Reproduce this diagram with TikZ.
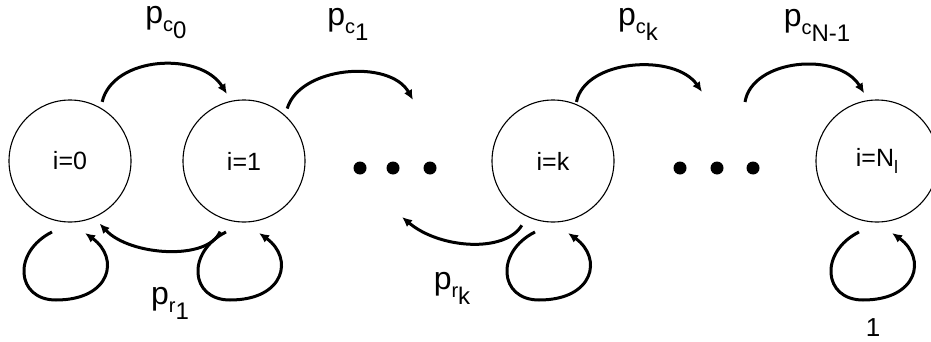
\documentclass[tikz,border=0pt]{standalone}
\usepackage{fontspec}
\setmainfont{Liberation Sans}
\usetikzlibrary{arrows.meta}
\newcommand{\plab}[2]{p\raisebox{-8pt}{\fontsize{20}{20}\selectfont #1}\raisebox{-15pt}{\fontsize{24}{24}\selectfont #2}}
\begin{document}
\begin{tikzpicture}[x=1pt,y=1pt,
    state/.style={draw, circle, line width=1.1pt, minimum size=122pt, inner sep=0pt, font=\fontsize{25}{30}\selectfont},
    arr/.style={line width=3pt, -{Latex[length=10pt,width=9pt]}},
    lab/.style={inner sep=0pt, font=\fontsize{32}{38}\selectfont}]
    \useasboundingbox (0,0) rectangle (931,341);

    % States
    \node[state] (s0) at (70,180) {i=0};
    \node[state] (s1) at (244,180) {i=1};
    \node[state] (sk) at (553,180) {i=k};
    \node[state] (sN) at (877,180) {i=N\raisebox{-7pt}{\fontsize{18}{18}\selectfont l}};

    % Dots
    \foreach \x in {360,393,430,680,717,753}
        \fill (\x,173) circle (6.5);

    % Free ends
    \coordinate (c1end) at (413,241);
    \coordinate (ckend) at (702,249);
    \coordinate (cNstart) at (745,239);
    \coordinate (rkend) at (402,124);

    % Forward arrows
    \draw[arr, shorten <=6pt, shorten >=8pt] (s0.60) .. controls (113,285) and (200,290) .. (s1.102);
    \draw[arr, shorten <=7pt] (s1.48) .. controls (300,275) and (390,282) .. (c1end);
    \draw[arr, shorten <=2pt] (sk.68) .. controls (585,282) and (675,288) .. (ckend);
    \draw[arr, shorten >=8pt] (cNstart) .. controls (752,282) and (838,290) .. (sN.98);

    % Backward arrows
    \draw[arr, shorten <=13pt, shorten >=8pt] (s1.-108) .. controls (208,80) and (130,85) .. (s0.-67);
    \draw[arr, shorten <=10pt] (sk.-115) .. controls (505,88) and (440,92) .. (rkend);

    % Self loops
    \foreach \s in {s0,s1,sk,sN}
        \draw[arr] ([shift={(-18,-71)}]\s.center) .. controls +(-40,-20) and +(-40,0) .. ([shift={(-14,-139)}]\s.center) .. controls +(55,0) and +(35,-25) .. ([shift={(15,-72)}]\s.center);

    % Labels
    \node[lab] (lc0) at (166,318) {\plab{c}{0}};
    \node[lab] (lc1) at (348,317) {\plab{c}{1}};
    \node[lab] (lck) at (638,317) {\plab{c}{k}};
    \node[lab] (lcN) at (817,316) {\plab{c}{N-1}};
    \node[lab] (lr1) at (170,38) {\plab{r}{1}};
    \node[lab] (lrk) at (452,53) {\plab{r}{k}};
    \node[inner sep=0pt, font=\fontsize{26}{30}\selectfont] (lone) at (873,13) {1};
\end{tikzpicture}
\end{document}
